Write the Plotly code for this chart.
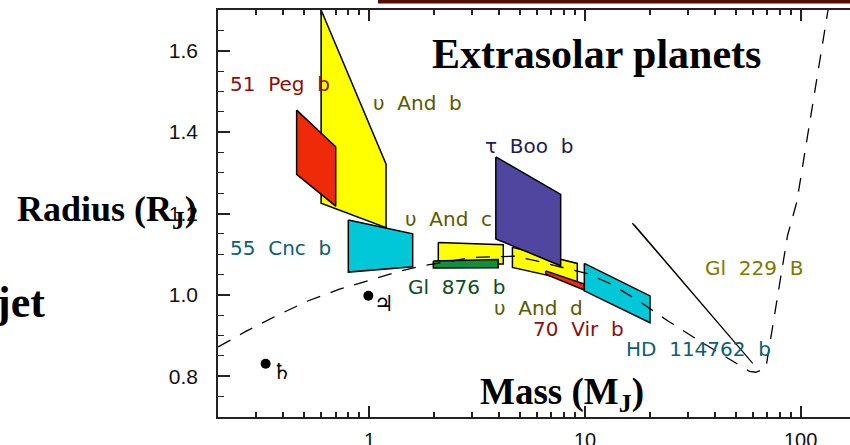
import numpy as np
import plotly.graph_objects as go

# ---------------- data (mass in M_J, radius in R_J) ----------------
ups_and_b_m = [0.60, 1.20, 1.20, 0.60]
ups_and_b_r = [1.700, 1.321, 1.165, 1.225]

peg51_m = [0.462, 0.462, 0.701, 0.701]
peg51_r = [1.454, 1.296, 1.218, 1.364]

cnc55_m = [0.802, 1.594, 1.594, 0.802]
cnc55_r = [1.184, 1.150, 1.069, 1.056]

ups_and_c_m = [2.095, 4.19, 4.19, 2.095]
ups_and_c_r = [1.129, 1.1235, 1.076, 1.076]

gl876_m = [1.986, 3.97, 3.97, 1.986]
gl876_r = [1.083, 1.087, 1.067, 1.066]

ups_and_d_m = [4.62, 9.23, 9.23, 4.62]
ups_and_d_r = [1.1168, 1.0773, 1.032, 1.0674]

tau_boo_m = [3.87, 7.73, 7.73, 3.87]
tau_boo_r = [1.339, 1.247, 1.0716, 1.1375]

vir70_m = [6.59, 9.95, 9.95, 6.59]
vir70_r = [1.059, 1.0264, 1.0116, 1.051]

hd114762_m = [9.95, 20.05, 20.05, 9.95]
hd114762_r = [1.0773, 0.9975, 0.9316, 1.0099]

gl229_m = [16.6, 17.05, 60.0]
gl229_r = [1.176, 1.171, 0.832]

curve_m = [0.2, 0.27, 0.37, 0.52, 0.73, 1.0, 1.4, 1.8, 3.0, 4.7, 5.9, 10.3,
           13.2, 17.8, 24.3, 33.5, 46, 58, 62, 69, 87, 96, 134]
curve_r = [0.872, 0.911, 0.948, 0.985, 1.014, 1.035, 1.059, 1.072, 1.092, 1.095,
           1.084, 1.052, 1.027, 0.985, 0.936, 0.889, 0.844, 0.812, 0.810, 0.820,
           1.146, 1.228, 1.700]

solar_m = [0.993, 0.332]
solar_r = [0.998, 0.831]
solar_sym = ["\u2643", "\u2644"]

labels = ["51\u00a0\u00a0Peg\u00a0\u00a0b", "\u03c5\u00a0\u00a0And\u00a0\u00a0b", "\u03c4\u00a0\u00a0Boo\u00a0\u00a0b",
          "\u03c5\u00a0\u00a0And\u00a0\u00a0c", "55\u00a0\u00a0Cnc\u00a0\u00a0b", "Gl\u00a0\u00a0876\u00a0\u00a0b",
          "\u03c5\u00a0\u00a0And\u00a0\u00a0d", "70\u00a0\u00a0Vir\u00a0\u00a0b", "HD\u00a0\u00a0114762\u00a0\u00a0b",
          "Gl\u00a0\u00a0229\u00a0\u00a0B"]
label_m = [0.2214, 1.018, 3.386, 1.442, 0.2214, 1.484, 3.704, 5.63, 15.19, 35.19]
label_r = [1.517, 1.4716, 1.3654, 1.1877, 1.1148, 1.0198, 0.9667, 0.9173, 0.8667, 1.0654]
label_col = ["#8a1010", "#5a5a00", "#231a55", "#5a5a00", "#0b6070", "#0d4d25",
             "#5a5a00", "#8a1010", "#0b6070", "#7a7a00"]

x_ticks = [1, 10, 100]
x_ticktext = ["1", "10", "100"]
x_minor = [0.3, 0.4, 0.5, 0.6, 0.7, 0.8, 0.9, 2, 3, 4, 5, 6, 7, 8, 9,
           20, 30, 40, 50, 60, 70, 80, 90]
y_ticks = [0.8, 1.0, 1.2, 1.4, 1.6]
y_ticktext = ["0.8", "1.0", "1.2", "1.4", "1.6"]
y_minor = [0.75, 0.85, 0.9, 0.95, 1.05, 1.1, 1.15, 1.25, 1.3, 1.35, 1.45, 1.5, 1.55, 1.65]

YELLOW = "#ffff00"
RED = "#ee2a08"
CYAN = "#00c8d8"
GREEN = "#10903a"
PURPLE = "#5046a0"

lg = np.log10  # mass axis is logarithmic: positions are log10(mass)

fig = go.Figure()

def poly(m, r, color, width=1.5):
    fig.add_trace(go.Scatter(x=lg(list(m) + [m[0]]), y=list(r) + [r[0]], mode="lines",
                             fill="toself", fillcolor=color,
                             line=dict(color="black", width=width),
                             hoverinfo="skip", showlegend=False))

poly(ups_and_b_m, ups_and_b_r, YELLOW)
poly(peg51_m, peg51_r, RED)
poly(cnc55_m, cnc55_r, CYAN)
poly(ups_and_c_m, ups_and_c_r, YELLOW)
poly(gl876_m, gl876_r, GREEN)
poly(ups_and_d_m, ups_and_d_r, YELLOW)
poly(tau_boo_m, tau_boo_r, PURPLE)
poly(vir70_m, vir70_r, RED)
poly(hd114762_m, hd114762_r, CYAN)
poly(gl229_m, gl229_r, YELLOW, width=1.1)

fig.add_trace(go.Scatter(x=lg(curve_m), y=curve_r, mode="lines",
                         line=dict(color="black", width=1.3, dash="14px,11px"),
                         hoverinfo="skip", showlegend=False))

fig.add_trace(go.Scatter(x=lg(solar_m), y=solar_r, mode="markers",
                         marker=dict(color="black", size=10),
                         hoverinfo="skip", showlegend=False))

W, H = 850, 445
L, R_, T, B = 218, 0, 10, 28
pw, ph = W - L - R_, H - T - B

def px(x):
    return (x - L) / pw

def py(y):
    return (H - B - y) / ph

annotations = []
for s, m, r in zip(solar_sym, solar_m, solar_r):
    annotations.append(dict(x=lg(m), y=r, xref="x", yref="y", text=s,
                            showarrow=False, xanchor="left", yanchor="middle",
                            xshift=4, yshift=-8,
                            font=dict(family="DejaVu Sans", size=22, color="black")))
for t, m, r, c in zip(labels, label_m, label_r, label_col):
    annotations.append(dict(x=lg(m), y=r, xref="x", yref="y", text=t,
                            showarrow=False, xanchor="left", yanchor="middle",
                            font=dict(family="DejaVu Sans", size=20, color=c)))
# mass-axis tick labels
for v, t in zip(x_ticks, x_ticktext):
    annotations.append(dict(x=lg(v), y=py(427), xref="x", yref="paper", text=t,
                            showarrow=False, xanchor="center", yanchor="top",
                            font=dict(family="Liberation Sans", size=20, color="#111111")))

serif = "Liberation Serif"
annotations += [
    dict(x=px(596), y=py(54), xref="paper", yref="paper", text="<b>Extrasolar planets</b>",
         showarrow=False, xanchor="center", yanchor="middle",
         font=dict(family=serif, size=42, color="black")),
    dict(x=px(478), y=py(394), xref="paper", yref="paper", text="<b>Mass (M<sub>J</sub>)</b>",
         showarrow=False, xanchor="left", yanchor="middle",
         font=dict(family=serif, size=37, color="black")),
    dict(x=px(15), y=py(211), xref="paper", yref="paper", text="<b>Radius (R<sub>J</sub>)</b>",
         showarrow=False, xanchor="left", yanchor="middle",
         font=dict(family=serif, size=36, color="black")),
    dict(x=px(47), y=py(302), xref="paper", yref="paper", text="<b>jet</b>",
         showarrow=False, xanchor="right", yanchor="middle",
         font=dict(family=serif, size=44, color="black")),
]

axis_col = "#222222"
fig.update_layout(
    width=W, height=H,
    margin=dict(l=L, r=R_, t=T, b=B, pad=0, autoexpand=False),
    paper_bgcolor="white", plot_bgcolor="white",
    showlegend=False,
    annotations=annotations,
    shapes=[dict(type="rect", xref="paper", yref="paper", x0=px(378), x1=1.0,
                 y0=py(3.5), y1=py(0), fillcolor="#5a0c04", line=dict(width=0), layer="above")],
    xaxis=dict(range=[-0.6997, 2.2289], showgrid=False, zeroline=False,
               automargin=False, mirror="allticks",
               showline=True, linecolor=axis_col, linewidth=1.5,
               ticks="inside", ticklen=11, tickwidth=1.6, tickcolor=axis_col,
               tickmode="array", tickvals=lg(x_ticks), showticklabels=False,
               minor=dict(tickmode="array", tickvals=lg(x_minor), ticks="inside", ticklen=5,
                          tickwidth=1.5, tickcolor=axis_col, showgrid=False)),
    yaxis=dict(range=[0.7, 1.7], showgrid=False, zeroline=False,
               automargin=False,
               showline=True, linecolor=axis_col, linewidth=1.5, mirror=False,
               ticks="inside", ticklen=12, tickwidth=1.5, tickcolor=axis_col,
               tickmode="array", tickvals=y_ticks, ticktext=y_ticktext,
               tickfont=dict(family="Liberation Sans", size=21, color="#111111"),
               ticklabelstandoff=14,
               minor=dict(tickmode="array", tickvals=y_minor, ticks="inside", ticklen=6,
                          tickwidth=1.4, tickcolor=axis_col, showgrid=False)),
)

fig.write_html("out.html", config={"displayModeBar": False},
               post_script="document.body.style.margin='0';")
